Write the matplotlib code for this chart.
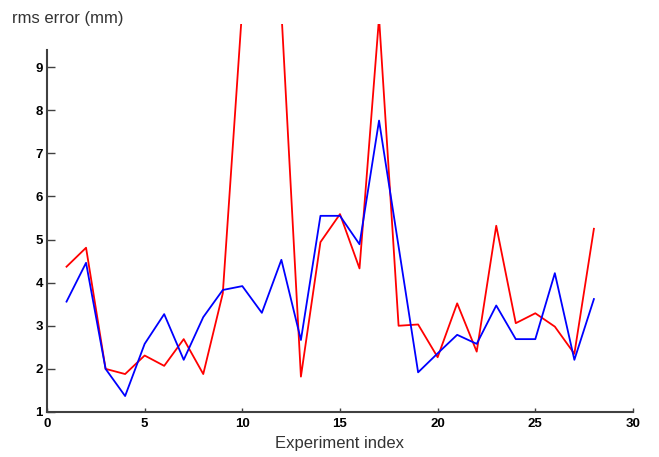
import matplotlib.pyplot as plt

# experiment index 1..28
experiments = list(range(1, 29))

# rms error (mm); red peaks are clipped at the top
red_err = [4.37, 4.81, 2.00, 1.88, 2.31, 2.07, 2.69, 1.88, 3.75, 10.4,
           12.0, 10.3, 1.82, 4.94, 5.59, 4.33, 10.15, 3.00, 3.03, 2.27,
           3.52, 2.40, 5.32, 3.06, 3.29, 2.98, 2.35, 5.25]
blue_err = [3.56, 4.46, 2.00, 1.37, 2.58, 3.27, 2.21, 3.20, 3.83, 3.92,
            3.30, 4.53, 2.67, 5.55, 5.55, 4.89, 7.76, 4.84, 1.92, 2.36,
            2.79, 2.58, 3.47, 2.69, 2.69, 4.22, 2.21, 3.62]

x_ticks = [0, 5, 10, 15, 20, 25, 30]
y_ticks = [1, 2, 3, 4, 5, 6, 7, 8, 9]

plt.rcParams['font.family'] = ['Liberation Sans', 'DejaVu Sans']

fig = plt.figure(figsize=(6.59, 4.57), dpi=100)
ax = fig.add_axes([0.0713, 0.0985, 0.8892, 0.849])

ax.plot(experiments, red_err, color='#ff0000', linewidth=1.3)
ax.plot(experiments, blue_err, color='#0000ff', linewidth=1.3)

ax.set_xlim(0, 30)
ax.set_ylim(1, 10)
ax.set_xticks(x_ticks)
ax.set_yticks(y_ticks)
ax.set_xticklabels([str(t) for t in x_ticks], fontweight='bold', fontsize=9.5)
ax.set_yticklabels([str(t) for t in y_ticks], fontweight='bold', fontsize=9.5)
ax.tick_params(axis='x', direction='in', length=3, width=1, color='#404040', pad=4)
ax.tick_params(axis='y', direction='in', length=6, width=1, color='#404040', pad=3)

for side in ('top', 'right'):
    ax.spines[side].set_visible(False)
for side in ('left', 'bottom'):
    ax.spines[side].set_color('#404040')
    ax.spines[side].set_linewidth(1.5)
ax.spines['left'].set_bounds(1, 9.4)

ax.set_xlabel('Experiment index', fontsize=12, color='#333333', labelpad=5)
fig.text(12 / 659, 1 - 18 / 457, 'rms error (mm)', fontsize=12,
         color='#333333', ha='left', va='center')

fig.savefig('out.png', dpi=100)
